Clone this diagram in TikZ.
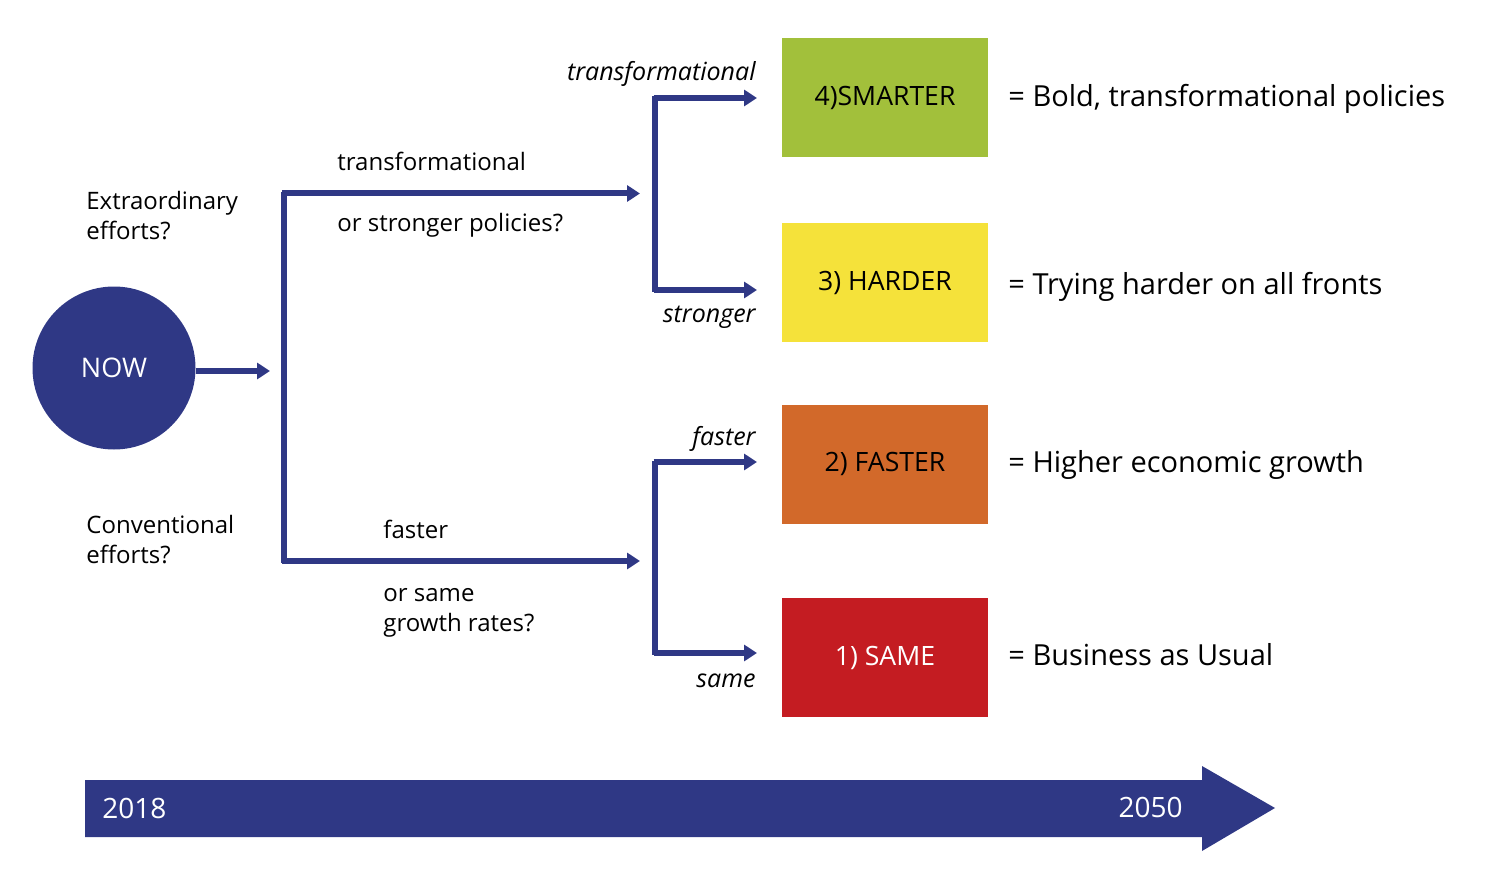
\documentclass[tikz,border=0pt]{standalone}
\usepackage{fontspec}
\setmainfont{Open Sans}
\usetikzlibrary{arrows.meta}
\definecolor{navy}{HTML}{2F3885}
\definecolor{cgreen}{HTML}{A2C03B}
\definecolor{cyellow}{HTML}{F5E23A}
\definecolor{corange}{HTML}{D2692A}
\definecolor{cred}{HTML}{C41C22}
\begin{document}
\begin{tikzpicture}[x=0.5pt,y=-0.5pt,
  conn/.style={draw=navy,line width=3pt,-{Triangle[length=6.5pt,width=8pt]}},
  bar/.style={draw=navy,line width=3pt},
  lbl/.style={inner sep=0pt,font=\fontsize{12}{15}\selectfont,align=left},
  ilbl/.style={inner sep=0pt,font=\fontsize{12.5}{15}\selectfont\itshape},
  big/.style={inner sep=0pt,font=\fontsize{14.5}{18}\selectfont},
  scen/.style={minimum width=103pt,minimum height=59.5pt,inner sep=0pt,font=\fontsize{13.3}{16}\selectfont}]
\useasboundingbox (0,0) rectangle (1490,888);
% NOW circle
\node[circle,fill=navy,minimum size=81.5pt,inner sep=0pt,text=white,font=\fontsize{13.5}{16}\selectfont] (now) at (114,368) {NOW};
\coordinate (nowend) at (270,371);
\draw[conn] (now.east |- nowend) -- (nowend);
% first bracket
\coordinate (b1t) at (283.5,193.5);
\coordinate (b1b) at (283.5,561);
\coordinate (a1t) at (640,193.5);
\coordinate (a1b) at (640,561);
\draw[bar] ([yshift=0.75pt]b1t) -- ([yshift=-0.75pt]b1b);
\draw[conn] ([xshift=-0.75pt]b1t) -- (a1t);
\draw[conn] ([xshift=-0.75pt]b1b) -- (a1b);
% second brackets
\coordinate (b2t) at (655,98);
\coordinate (b2b) at (655,290);
\coordinate (b3t) at (655,462);
\coordinate (b3b) at (655,653);
\coordinate (e4) at (757,98);
\coordinate (e3) at (757,290);
\coordinate (e2) at (757,462);
\coordinate (e1) at (757,653);
\draw[bar] ([yshift=0.75pt]b2t) -- ([yshift=-0.75pt]b2b);
\draw[bar] ([yshift=0.75pt]b3t) -- ([yshift=-0.75pt]b3b);
\draw[conn] ([xshift=-0.75pt]b2t) -- (e4);
\draw[conn] ([xshift=-0.75pt]b2b) -- (e3);
\draw[conn] ([xshift=-0.75pt]b3t) -- (e2);
\draw[conn] ([xshift=-0.75pt]b3b) -- (e1);
% scenario boxes
\node[scen,fill=cgreen]  (s4) at (885,98)  {4)SMARTER};
\node[scen,fill=cyellow] (s3) at (885,282.5) {3) HARDER};
\node[scen,fill=corange] (s2) at (885,464) {2) FASTER};
\node[scen,fill=cred,text=white] (s1) at (885,657.5) {1) SAME};
% right descriptions
\node[big,anchor=base west] (d4) at (1008,107) {= Bold, transformational policies};
\node[big,anchor=base west] (d3) at (1008,294) {= Trying harder on all fronts};
\node[big,anchor=base west] (d2) at (1008,472) {= Higher economic growth};
\node[big,anchor=base west] (d1) at (1008,665) {= Business as Usual};
% left labels
\node[lbl,anchor=base west] (extra) at (86,240) {Extraordinary\\efforts?};
\node[lbl,anchor=base west] (conv) at (86,563) {Conventional\\efforts?};
\node[lbl,anchor=base west] (tr) at (337,170) {transformational};
\node[lbl,anchor=base west] (osp) at (337,232) {or stronger policies?};
\node[lbl,anchor=base west] (fa) at (383,538) {faster};
\node[lbl,anchor=base west] (osg) at (383,631) {or same\\growth rates?};
% italic labels
\node[ilbl,anchor=base east] (itr) at (756,81) {transformational};
\node[ilbl,anchor=base east] (ist) at (756,322) {stronger};
\node[ilbl,anchor=base east] (ifa) at (756,445) {faster};
\node[ilbl,anchor=base east] (isa) at (756,687) {same};
% timeline
\fill[navy] (85,780) -- (1202,780) -- (1202,766) -- (1275,808) -- (1202,851) -- (1202,837) -- (85,837) -- cycle;
\node[inner sep=0pt,text=white,anchor=base west,font=\fontsize{14}{17}\selectfont] (y1) at (102,818) {2018};
\node[inner sep=0pt,text=white,anchor=base east,font=\fontsize{14}{17}\selectfont] (y2) at (1183,817) {2050};
\end{tikzpicture}
\end{document}
